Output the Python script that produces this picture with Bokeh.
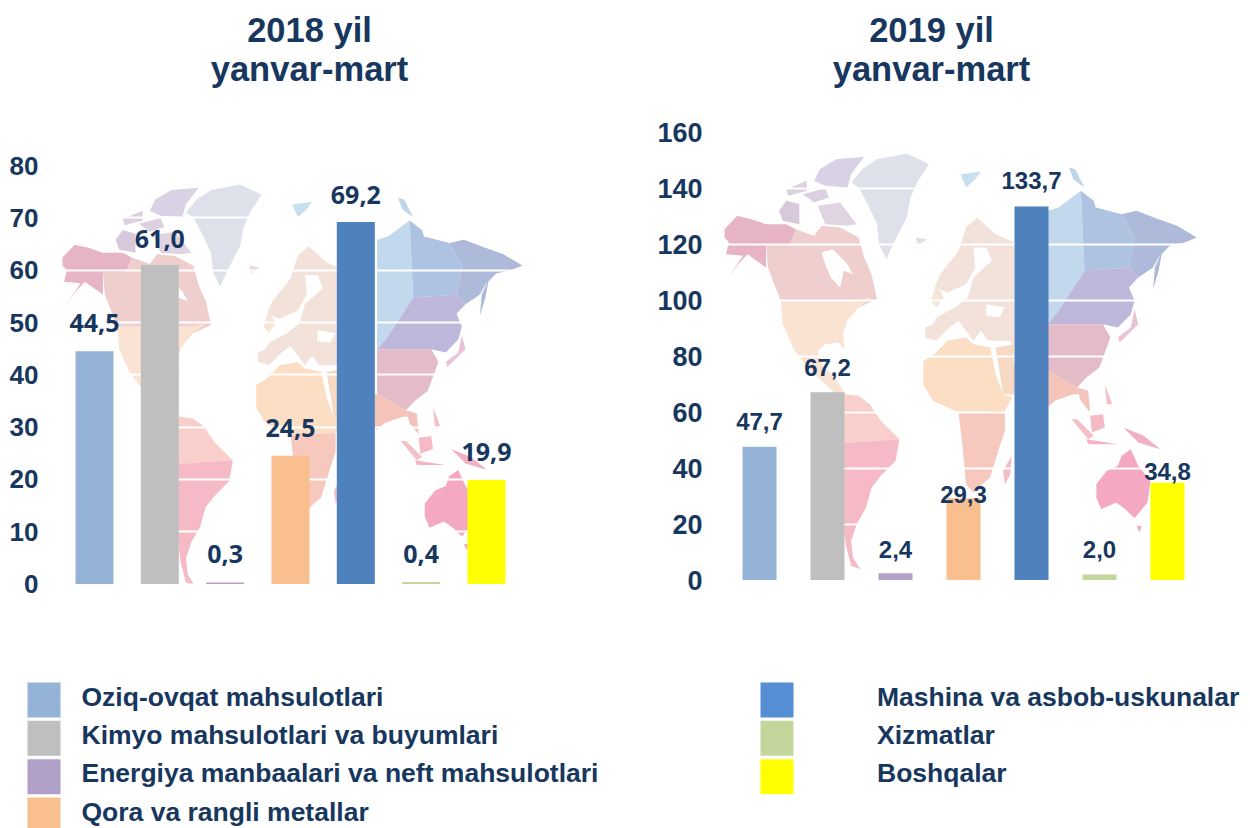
from bokeh.plotting import figure
from bokeh.layouts import column, row
from bokeh.models import Range1d, FixedTicker, ColumnDataSource
from bokeh.core.properties import value
from bokeh.embed import file_html
from bokeh.resources import INLINE

# ---- data ----
categories = ["Oziq-ovqat mahsulotlari", "Kimyo mahsulotlari va buyumlari",
              "Energiya manbaalari va neft mahsulotlari", "Qora va rangli metallar",
              "Mashina va asbob-uskunalar", "Xizmatlar", "Boshqalar"]
values_2018 = [44.5, 61.0, 0.3, 24.5, 69.2, 0.4, 19.9]
values_2019 = [47.7, 67.2, 2.4, 29.3, 133.7, 2.0, 34.8]
ticks_2018 = [0, 10, 20, 30, 40, 50, 60, 70, 80]
ticks_2019 = [0, 20, 40, 60, 80, 100, 120, 140, 160]
bar_colors = ["#95B3D7", "#BFBFBF", "#B1A0C7", "#F9BF8F", "#4F81BD", "#C3D69B", "#FFFF00"]
legend_colors = ["#95B3D7", "#BFBFBF", "#B1A0C7", "#F9BF8F", "#558ED5", "#C3D69B", "#FFFF00"]
NAVY = "#17375E"

# decorative world map background: (fill colour, outline in map units)
MAP = [
 # Greenland + Arctic islands
 ("#DFE1EA", [(570,215),(600,175),(640,145),(720,128),(780,160),(750,210),(730,260),(720,320),(690,385),(665,445),(645,400),(640,340),(610,270),(590,230)]),
 ("#D8D2E4", [(485,175),(530,145),(605,138),(570,190),(560,230),(500,225),(470,210)]),
 ("#DCCFE0", [(395,235),(450,210),(450,240),(400,255)]),
 ("#DCCFE0", [(440,250),(500,232),(510,260),(470,275)]),
 ("#D8C8DC", [(375,300),(395,270),(430,280),(430,340),(385,330)]),
 ("#E0D4E2", [(480,285),(540,275),(585,340),(560,345),(500,340)]),
 # North America
 ("#E6B4C4", [(228,355),(262,315),(300,325),(340,340),(395,340),(420,355),(405,400),(340,400),(340,470),(290,430),(265,460),(236,505),(278,435),(232,430),(240,395),(228,380)]),
 ("#EFCFCE", [(340,400),(405,400),(420,355),(470,375),(490,345),(540,350),(590,380),(605,440),(625,490),(640,565),(590,590),(575,570),(380,570),(345,470)]),
 ("#FBE3D3", [(380,570),(575,570),(625,560),(590,590),(560,630),(548,665),(552,715),(535,695),(500,700),(480,720),(495,770),(520,790),(555,850),(560,860),(530,850),(460,780),(415,715),(385,640)]),
 ("#FFFFFF", [(490,425),(520,415),(560,460),(575,490),(550,480),(540,530),(515,500),(500,460)]),
 # South America
 ("#F9CFCB", [(555,850),(590,855),(620,880),(650,930),(700,985),(500,1000),(510,960),(530,880)]),
 ("#F6BAC6", [(500,1000),(700,985),(690,1050),(650,1095),(625,1130),(610,1190),(585,1240),(570,1290),(575,1340),(595,1375),(570,1365),(555,1300),(545,1200)]),
 # Europe
 ("#F3E2DA", [(1010,395),(960,370),(910,320),(880,350),(860,420),(810,490),(795,530),(830,545),(880,520),(905,470),(900,410),(935,410),(950,450),(900,500),(885,560),(850,590),(800,620),(790,640),(770,650),(770,680),(800,690),(835,650),(860,630),(900,690),(920,660),(940,690),(1000,690),(1010,720)]),
 ("#FFFFFF", [(935,580),(985,590),(970,620),(935,615)]),
 ("#F5E6D8", [(800,520),(820,560),(800,590),(785,570)]),
 # Africa + Middle East
 ("#FBDEC4", [(765,750),(790,735),(830,690),(880,680),(900,700),(945,710),(960,790),(980,850),(1005,860),(985,900),(860,905),(790,870),(765,820)]),
 ("#F7C8BE", [(860,905),(985,900),(985,960),(970,1010),(945,1100),(900,1145),(880,1120),(870,1000)]),
 ("#F8DAC4", [(960,710),(1010,700),(1010,850),(980,850)]),
 ("#F3BFC4", [(1003,1035),(1000,1090),(985,1120),(980,1080)]),
 # Asia
 ("#C2D8EC", [(1100,300),(1130,290),(1190,240),(1200,480),(1130,600),(1100,640)]),
 ("#AEC3E2", [(1190,240),(1225,270),(1230,290),(1300,310),(1335,380),(1320,470),(1200,480)]),
 ("#AEBADA", [(1300,310),(1340,300),(1400,325),(1450,345),(1503,380),(1470,395),(1430,405),(1400,440),(1385,470),(1345,500),(1320,470),(1335,380)]),
 ("#BDB7DC", [(1200,480),(1320,470),(1345,500),(1320,530),(1335,570),(1325,610),(1290,650),(1250,640),(1100,640),(1130,600)]),
 ("#ABB9D8", [(1390,470),(1410,420),(1400,480),(1385,535)]),
 ("#E3BCC8", [(1100,640),(1250,640),(1270,680),(1240,770),(1205,800),(1180,830),(1100,780)]),
 ("#F4C4BA", [(1100,780),(1180,830),(1185,850),(1170,850),(1120,870),(1100,890),(1010,850),(1010,760)]),
 ("#F4C3BE", [(1180,830),(1210,840),(1215,905),(1190,870)]),
 ("#E9C3D5", [(1335,595),(1345,640),(1295,695),(1290,680),(1325,650)]),
 ("#F5BFC6", [(1165,925),(1180,925),(1225,975),(1210,985)]),
 ("#F5BAC6", [(1215,915),(1250,910),(1255,950),(1220,965)]),
 ("#F5BFC6", [(1255,820),(1275,880),(1260,880)]),
 ("#F3B4C6", [(1205,985),(1290,1000),(1210,1000)]),
 ("#F2AFC6", [(1305,950),(1360,975),(1405,1015),(1345,995)]),
 # Australia
 ("#F5A8C2", [(1232,1120),(1260,1080),(1290,1065),(1300,1035),(1325,1015),(1345,1065),(1378,1110),(1370,1175),(1335,1222),(1310,1195),(1285,1175),(1245,1195),(1232,1160)]),
 ("#F2AFC6", [(1340,1245),(1355,1245),(1348,1265)]),
 # small islands
 ("#C8E0EE", [(865,190),(920,182),(905,205),(880,230)]),
 ("#BCD6EC", [(1158,170),(1175,175),(1200,230),(1170,205)]),
 ("#E8DCDE", [(745,380),(775,385),(750,405)]),
]

def map_patches(fx, fy):
    xs = [[fx(u) for u, _ in pts] for _, pts in MAP]
    ys = [[fy(v) for _, v in pts] for _, pts in MAP]
    return dict(xs=xs, ys=ys, color=[c for c, _ in MAP])

def chart(vals, ticks, cfg):
    x0, dx, bw = cfg["x0"], cfg["dx"], cfg["bw"]
    y0, k = cfg["y0"], cfg["k"]
    L, R, T, B = cfg["left"], cfg["right"], 0, 670
    to_x = lambda px: (px - x0) / dx
    to_y = lambda py: (y0 - py) / k
    p = figure(output_backend="svg", toolbar_location=None,
               frame_width=R - L, frame_height=B - T,
               min_border_left=cfg["mbl"], min_border_right=cfg["mbr"],
               min_border_top=0, min_border_bottom=0,
               x_range=Range1d(to_x(L), to_x(R)), y_range=Range1d(to_y(B), to_y(T)))
    p.outline_line_color = None
    p.background_fill_color = "white"
    p.xaxis.visible = False
    p.xgrid.visible = False
    ax = p.yaxis[0]
    ax.ticker = FixedTicker(ticks=ticks)
    ax.axis_line_color = None
    ax.major_tick_line_color = None
    ax.minor_tick_line_color = None
    ax.major_tick_out = 0
    ax.major_tick_in = 0
    ax.minor_tick_out = 0
    ax.minor_tick_in = 0
    ax.major_label_text_font = "Liberation Sans"
    ax.major_label_text_font_style = "bold"
    ax.major_label_text_font_size = cfg["tick_fs"]
    ax.major_label_text_color = NAVY
    ax.major_label_standoff = 6
    g = p.ygrid[0]
    g.ticker = FixedTicker(ticks=ticks)
    g.grid_line_color = "white"
    g.grid_line_width = 2
    # map
    mx = lambda u: to_x(cfg["mx0"] + (u - 228) * cfg["msx"])
    my = lambda v: to_y(cfg["my0"] + (v - 125) * cfg["msy"])
    p.patches("xs", "ys", fill_color="color", line_color=None, level="image",
              source=ColumnDataSource(map_patches(mx, my)))
    # bars
    idx = list(range(len(vals)))
    p.vbar(x=idx, top=vals, bottom=0, width=bw / dx, fill_color=bar_colors, line_color=None)
    # value labels
    labels = [f"{v:.1f}".replace(".", ",") for v in vals]
    src = ColumnDataSource(dict(x=idx, y=vals, t=labels, off=cfg["lab_off"]))
    p.text("x", "y", text="t", source=src, y_offset="off", text_align="center",
           text_baseline="middle", text_color=NAVY, text_font=value(cfg["lab_font"]),
           text_font_style="bold", text_font_size=cfg["lab_fs"])
    # title
    p.text([to_x(cfg["title_x"])], [to_y(49)], text=[cfg["title"]], text_align="center",
           text_baseline="middle", text_color=NAVY, text_font=value("Liberation Sans"),
           text_font_style="bold", text_font_size="34.5px", text_line_height=1.05)
    return p

p1 = chart(values_2018, ticks_2018, dict(
    x0=94, dx=65.33, bw=38, y0=583.5, k=5.23, left=44, right=574, mbl=44, mbr=46,
    tick_fs="26px", lab_off=[-28, -26, -28, -28, -27, -28, -28], lab_font="Open Sans", lab_fs="25px",
    mx0=62, msx=0.3608, my0=183, msy=0.3218, title="2018 yil\nyanvar-mart", title_x=309))
p2 = chart(values_2019, ticks_2019, dict(
    x0=759, dx=68, bw=34, y0=579.5, k=2.794, left=708, right=1210, mbl=88, mbr=40,
    tick_fs="27px", lab_off=[-25, -25, -24, -4, -26, -25, -11], lab_font="Liberation Sans", lab_fs="24px",
    mx0=724, msx=0.3704, my0=152, msy=0.3333, title="2019 yil\nyanvar-mart", title_x=931))

# legend panel, its ranges equal to the picture's pixels
leg = figure(output_backend="svg", toolbar_location=None, frame_width=1250, frame_height=158,
             min_border=0, x_range=Range1d(0, 1250), y_range=Range1d(828, 670))
leg.axis.visible = False
leg.grid.visible = False
leg.outline_line_color = None
cols = [(43.5, 81), (776.5, 876.5)]
rows_y = [699.5, 737.8, 776.2, 814.5]
counts = [4, 3]
i = 0
sx, sy, sc, tx, ty, tt = [], [], [], [], [], []
for (cx, txt_x), n in zip(cols, counts):
    for r in range(n):
        sx.append(cx); sy.append(rows_y[r]); sc.append(legend_colors[i])
        tx.append(txt_x); ty.append(rows_y[r] - 3.5); tt.append(categories[i])
        i += 1
leg.rect(sx, sy, width=33, height=35, fill_color=sc, line_color=None)
leg.text(tx, ty, text=tt, text_align="left", text_baseline="middle", text_color=NAVY,
         text_font=value("Liberation Sans"), text_font_style="bold", text_font_size="26.5px")

page = column(row(p1, p2, spacing=0), leg, spacing=0)
open("out.html", "w").write(file_html(page, INLINE))
